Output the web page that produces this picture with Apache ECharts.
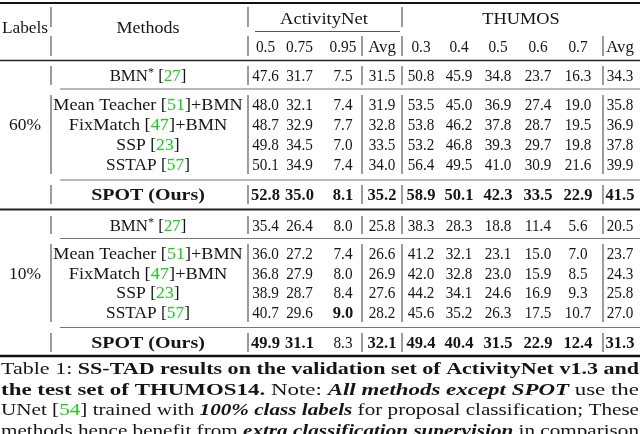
<!DOCTYPE html>
<html><head><meta charset="utf-8">
<script src="https://cdn.jsdelivr.net/npm/echarts@6/dist/echarts.min.js"></script>
<style>html,body{margin:0;padding:0;background:#fff}#c{width:640px;height:434px}</style>
</head><body><div id="c"></div>
<script>
// ---------------- data ----------------
const groupLabels = ['60%', '10%'];
const methodNames = ['BMN', 'Mean Teacher', 'FixMatch', 'SSP', 'SSTAP', 'SPOT (Ours)'];
const methodMarks = ['*', '', '', '', '', ''];
const methodRefs = ['27', '51', '47', '23', '57', ''];
const methodSuffix = ['', '+BMN', '+BMN', '', '', ''];
const datasets = ['ActivityNet', 'THUMOS'];
const anetHeads = ['0.5', '0.75', '0.95', 'Avg'];
const thumosHeads = ['0.3', '0.4', '0.5', '0.6', '0.7', 'Avg'];
const anet60 = [[47.6,31.7,7.5,31.5],[48.0,32.1,7.4,31.9],[48.7,32.9,7.7,32.8],[49.8,34.5,7.0,33.5],[50.1,34.9,7.4,34.0],[52.8,35.0,8.1,35.2]];
const thumos60 = [[50.8,45.9,34.8,23.7,16.3,34.3],[53.5,45.0,36.9,27.4,19.0,35.8],[53.8,46.2,37.8,28.7,19.5,36.9],[53.2,46.8,39.3,29.7,19.8,37.8],[56.4,49.5,41.0,30.9,21.6,39.9],[58.9,50.1,42.3,33.5,22.9,41.5]];
const anet10 = [[35.4,26.4,8.0,25.8],[36.0,27.2,7.4,26.6],[36.8,27.9,8.0,26.9],[38.9,28.7,8.4,27.6],[40.7,29.6,9.0,28.2],[49.9,31.1,8.3,32.1]];
const thumos10 = [[38.3,28.3,18.8,11.4,5.6,20.5],[41.2,32.1,23.1,15.0,7.0,23.7],[42.0,32.8,23.0,15.9,8.5,24.3],[44.2,34.1,24.6,16.9,9.3,25.8],[45.6,35.2,26.3,17.5,10.7,27.0],[49.4,40.4,31.5,22.9,12.4,31.3]];
// bold cells: [group, row, column(0..9)]
const boldCells = [
  [0,5,0],[0,5,1],[0,5,2],[0,5,3],[0,5,4],[0,5,5],[0,5,6],[0,5,7],[0,5,8],[0,5,9],
  [1,5,0],[1,5,1],[1,5,3],[1,5,4],[1,5,5],[1,5,6],[1,5,7],[1,5,8],[1,5,9],
  [1,4,2]
];
const captionLines = [
  [['n','Table 1: '],['b','SS-TAD results on the validation set of ActivityNet v1.3 and']],
  [['b','the test set of THUMOS14.'],['n',' Note: '],['bi','All methods except SPOT'],['n',' use the']],
  [['n','UNet ['],['g','54'],['n','] trained with '],['bi','100% class labels'],['n',' for proposal classification; These']],
  [['n','methods hence benefit from '],['bi','extra classification supervision'],['n',' in comparison']]
];

// ---------------- layout ----------------
const FAM = 'Liberation Serif';
const FS = 16.5;
const CFS = 17;
const INK = '#151515';
const GREEN = '#14d414';
const DY = 1.5;
const colX = [25, 148, 265.5, 299.5, 343, 382, 421, 459, 498, 538, 578, 620];
const groupRowY = [[75,104,124,144,164,194],[225,253,273,292,312,342]];
const labelRow = 2;
const methodScale = [1.02, 1.1, 1.11, 1.07, 1.05, 1.21];
const captionY = [368.5, 389, 409.5, 430.5];
const captionLeft = 1, captionRight = 639;

const RICH = {
  n: {fontFamily: FAM, fontSize: FS, fill: INK},
  b: {fontFamily: FAM, fontSize: FS, fontWeight: 'bold', fill: INK},
  g: {fontFamily: FAM, fontSize: FS, fill: GREEN},
  sup: {fontFamily: FAM, fontSize: 12, fill: INK, padding: [0, 0, 8, 0]},
  cn: {fontFamily: FAM, fontSize: CFS, fill: INK},
  cb: {fontFamily: FAM, fontSize: CFS, fontWeight: 'bold', fill: INK},
  cbi: {fontFamily: FAM, fontSize: CFS, fontWeight: 'bold', fontStyle: 'italic', fill: INK},
  cg: {fontFamily: FAM, fontSize: CFS, fill: GREEN}
};
function fontOf(k) {
  const r = RICH[k];
  return (r.fontStyle || 'normal') + ' ' + (r.fontWeight || 'normal') + ' ' + r.fontSize + 'px "' + FAM + '"';
}
const mctx = document.createElement('canvas').getContext('2d');
function measure(segs) {
  let w = 0;
  segs.forEach(s => { mctx.font = fontOf(s[0]); w += mctx.measureText(s[1]).width; });
  return w;
}
function rich(segs) { return segs.map(s => '{' + s[0] + '|' + s[1] + '}').join(''); }

// ---------------- texts ----------------
const texts = [];
function addText(x, y, segs, sx, align) { texts.push({x, y: y + DY, text: rich(segs), sx: sx || 1, align: align || 'center'}); }

addText(colX[0], 27, [['n','Labels']], 1.05);
addText(colX[1], 27, [['n','Methods']], 1.09);
addText(324, 18, [['n', datasets[0]]], 1.13);
addText(521, 18, [['n', datasets[1]]], 1.11);
anetHeads.forEach((h, i) => addText(colX[2 + i], 46, [['n', h]], h === 'Avg' ? 1.02 : 0.93));
thumosHeads.forEach((h, i) => addText(colX[6 + i], 46, [['n', h]], h === 'Avg' ? 1.02 : 0.93));

const groupData = [[anet60, thumos60], [anet10, thumos10]];
groupLabels.forEach((lab, g) => {
  const ys = groupRowY[g];
  addText(colX[0], ys[labelRow], [['n', lab]], 1.06);
  methodNames.forEach((m, r) => {
    let segs;
    if (r === 5) segs = [['b', m]];
    else {
      segs = [['n', m]];
      if (methodMarks[r]) segs.push(['sup', methodMarks[r]]);
      segs.push(['n', ' ['], ['g', methodRefs[r]], ['n', ']' + methodSuffix[r]]);
    }
    addText(colX[1], ys[r], segs, methodScale[r]);
    const vals = groupData[g][0][r].concat(groupData[g][1][r]);
    vals.forEach((v, c) => {
      const bold = boldCells.some(b => b[0] === g && b[1] === r && b[2] === c);
      addText(colX[2 + c], ys[r], [[bold ? 'b' : 'n', v.toFixed(1)]], bold ? 1.0 : 0.92);
    });
  });
});
captionLines.forEach((segs0, i) => {
  const segs = segs0.map(s => ['c' + s[0], s[1]]);
  const w = measure(segs);
  addText(captionLeft, captionY[i], segs, (captionRight - captionLeft) / w, 'left');
});

// ---------------- rules ----------------
const rules = [];
function hr(x1, x2, y, w, c) { rules.push([x1, y, x2, y, w, c]); }
function vr(x, y1, y2) { rules.push([x, y1, x, y2, 1.1, '#4a4a4a']); }
hr(0, 640, 3, 2, '#111');
hr(255, 400, 31.5, 1, '#555');
hr(0, 640, 60.5, 1.4, '#222');
hr(60, 640, 89, 1.2, '#777');
hr(60, 640, 180, 1.2, '#777');
hr(0, 640, 209.5, 1.8, '#222');
hr(60, 640, 238.5, 1.2, '#777');
hr(60, 640, 327.5, 1.2, '#777');
hr(0, 640, 356, 2.4, '#111');
[51, 248, 402].forEach(x => vr(x, 7, 27));
[51, 248, 362, 402, 603].forEach(x => vr(x, 36, 56));
const barSegs = [[66, 85], [95, 174], [185, 204], [216, 234], [244, 322], [333, 352]];
barSegs.forEach(s => [51, 248, 362, 402, 603].forEach(x => vr(x, s[0], s[1])));

// ---------------- chart ----------------
const chart = echarts.init(document.getElementById('c'));
chart.setOption({
  animation: false,
  grid: {left: 0, right: 0, top: 0, bottom: 0},
  xAxis: {type: 'value', min: 0, max: 640, show: false},
  yAxis: {type: 'value', min: 0, max: 434, inverse: true, show: false},
  series: [
    {
      type: 'custom', clip: false, silent: true,
      data: rules.map(r => r.slice(0, 4)),
      encode: {x: [0, 2], y: [1, 3]},
      renderItem: (params, api) => {
        const r = rules[params.dataIndex];
        const p1 = api.coord([api.value(0), api.value(1)]);
        const p2 = api.coord([api.value(2), api.value(3)]);
        return {type: 'line', shape: {x1: p1[0], y1: p1[1], x2: p2[0], y2: p2[1]},
                style: {stroke: r[5], lineWidth: r[4]}};
      }
    },
    {
      type: 'custom', clip: false, silent: true,
      data: texts.map(t => [t.x, t.y]),
      renderItem: (params, api) => {
        const t = texts[params.dataIndex];
        const p = api.coord([api.value(0), api.value(1)]);
        return {type: 'text', x: p[0], y: p[1], scaleX: t.sx,
                style: {text: t.text, rich: RICH, fontFamily: FAM, fontSize: FS, fill: INK,
                        align: t.align, textAlign: t.align, verticalAlign: 'middle', textVerticalAlign: 'middle'}};
      }
    }
  ]
});
</script></body></html>
